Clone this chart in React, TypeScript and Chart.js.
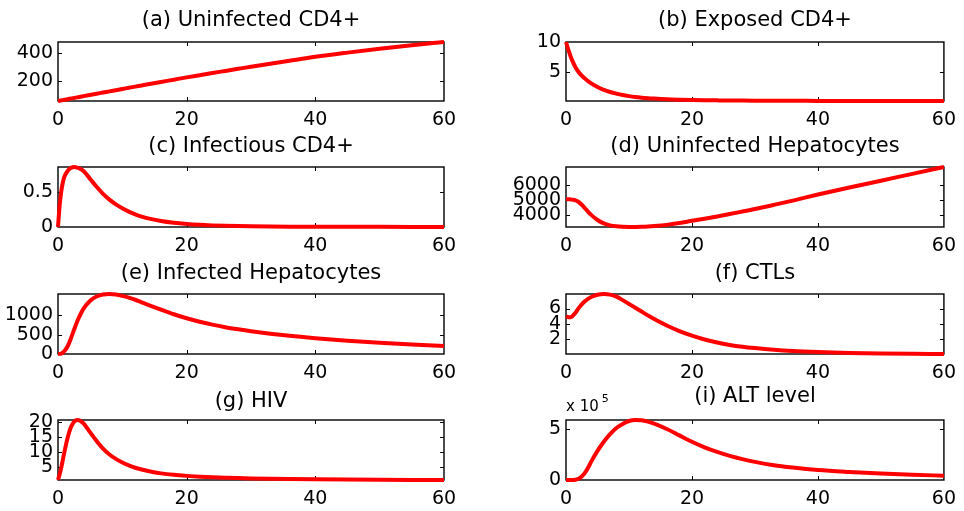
import React, { useEffect, useRef } from 'react';
import { Chart, registerables } from 'chart.js';

Chart.register(...registerables);

// ---------- data ----------
const TIME = [0, 0.25, 0.5, 0.75, 1, 1.5, 2, 2.5, 3, 3.5, 4, 5, 6, 7, 8, 9, 10, 11, 12, 13, 14, 16, 18, 20, 22, 24, 26, 28, 30, 33, 36, 40, 45, 50, 55, 60];
const X_TICKS = [0, 20, 40, 60];

const uninfectedCD4 = [57, 59, 61.5, 63.5, 66, 70, 74.5, 79, 83, 87.5, 92, 100.5, 109, 117.5, 126, 134.5, 143, 151.5, 160, 168, 176.5, 193, 209.5, 226, 241.5, 257, 272, 287, 302, 323.5, 345, 373, 403, 431, 456, 479];
const exposedCD4 = [10, 9.1, 8.3, 7.55, 6.9, 5.8, 5.0, 4.4, 3.9, 3.47, 3.1, 2.5, 2.03, 1.67, 1.39, 1.16, 0.98, 0.84, 0.73, 0.64, 0.57, 0.46, 0.39, 0.34, 0.3, 0.275, 0.255, 0.24, 0.225, 0.21, 0.2, 0.19, 0.182, 0.176, 0.172, 0.17];
const infectiousCD4 = [0, 0.3, 0.5, 0.63, 0.715, 0.795, 0.835, 0.85, 0.842, 0.822, 0.79, 0.68, 0.57, 0.47, 0.388, 0.32, 0.265, 0.218, 0.18, 0.148, 0.122, 0.085, 0.06, 0.043, 0.031, 0.023, 0.017, 0.013, 0.01, 0.007, 0.005, 0.0035, 0.0025, 0.0018, 0.0013, 0.001];
const uninfectedHep = [5050, 5050, 5045, 5040, 5025, 4980, 4870, 4690, 4470, 4240, 4030, 3695, 3470, 3345, 3280, 3250, 3238, 3236, 3245, 3265, 3295, 3375, 3495, 3640, 3780, 3925, 4080, 4245, 4410, 4680, 4960, 5360, 5820, 6260, 6710, 7157];
const infectedHep = [0, 3, 12, 35, 75, 200, 400, 630, 850, 1030, 1180, 1380, 1490, 1540, 1554, 1540, 1505, 1460, 1405, 1340, 1275, 1150, 1030, 925, 835, 760, 695, 640, 590, 525, 470, 410, 345, 290, 245, 205];
const ctls = [5.0, 4.9, 4.85, 4.88, 5.0, 5.45, 6.05, 6.55, 6.95, 7.27, 7.5, 7.8, 7.9, 7.82, 7.55, 7.1, 6.6, 6.1, 5.6, 5.1, 4.62, 3.78, 3.05, 2.45, 1.95, 1.55, 1.24, 1.0, 0.82, 0.6, 0.44, 0.3, 0.18, 0.11, 0.07, 0.05];
const hiv = [0.5, 2.3, 4.6, 7.3, 10, 14.8, 18.3, 20.2, 20.8, 20.5, 19.6, 16.6, 13.7, 11.1, 9.1, 7.6, 6.4, 5.4, 4.6, 4.0, 3.5, 2.7, 2.2, 1.85, 1.58, 1.37, 1.21, 1.09, 1.0, 0.89, 0.8, 0.7, 0.61, 0.54, 0.49, 0.45];
const altLevel = [0, 0, 0, 0, 500, 3000, 12000, 35000, 70000, 120000, 180000, 285000, 375000, 450000, 510000, 550000, 578000, 588000, 585000, 572000, 553000, 500000, 437000, 375000, 320000, 275000, 237000, 205000, 178000, 145000, 122000, 98000, 79000, 64000, 52000, 42000];

const TICKS_A = [200, 400];
const TICKS_B = [5, 10];
const TICKS_C = [0, 0.5];
const TICKS_D = [4000, 5000, 6000];
const TICKS_E = [0, 500, 1000];
const TICKS_F = [2, 4, 6];
const TICKS_G = [5, 10, 15, 20];
const TICKS_I = [0, 500000];

const TITLES = [
  '(a) Uninfected CD4+',
  '(b) Exposed CD4+',
  '(c) Infectious CD4+',
  '(d) Uninfected Hepatocytes',
  '(e) Infected Hepatocytes',
  '(f) CTLs',
  '(g) HIV',
  '(i) ALT level',
];

// ---------- layout ----------
const W = 964;
const H = 511;
const COL_L = [58, 566];
const COL_R = [444, 951];
const ROW_T = [42, 167, 294, 420];
const ROW_B = [101, 227, 354, 480];
const TITLE_BASE = [26, 152, 278.7, 407.3];
const Y_AXIS_W = 58;
const X_AXIS_H = 30;
const FONT = 'DejaVu Sans';

type Panel = {
  title: string;
  values: number[];
  yTicks: number[];
  row: number;
  col: number;
  divisor: number;
  exponent?: string;
  titleBase: number;
};

const PANELS: Panel[] = [
  { title: TITLES[0], values: uninfectedCD4, yTicks: TICKS_A, row: 0, col: 0, divisor: 1, titleBase: TITLE_BASE[0] },
  { title: TITLES[1], values: exposedCD4, yTicks: TICKS_B, row: 0, col: 1, divisor: 1, titleBase: TITLE_BASE[0] },
  { title: TITLES[2], values: infectiousCD4, yTicks: TICKS_C, row: 1, col: 0, divisor: 1, titleBase: TITLE_BASE[1] },
  { title: TITLES[3], values: uninfectedHep, yTicks: TICKS_D, row: 1, col: 1, divisor: 1, titleBase: TITLE_BASE[1] },
  { title: TITLES[4], values: infectedHep, yTicks: TICKS_E, row: 2, col: 0, divisor: 1, titleBase: TITLE_BASE[2] },
  { title: TITLES[5], values: ctls, yTicks: TICKS_F, row: 2, col: 1, divisor: 1, titleBase: TITLE_BASE[2] },
  { title: TITLES[6], values: hiv, yTicks: TICKS_G, row: 3, col: 0, divisor: 1, titleBase: TITLE_BASE[3] },
  { title: TITLES[7], values: altLevel, yTicks: TICKS_I, row: 3, col: 1, divisor: 100000, exponent: '5', titleBase: TITLE_BASE[3] - 5 },
];

function makeDecor(panel: Panel) {
  return {
    id: 'matlabDecor',
    beforeDatasetsDraw(chart: any) {
      const { ctx, chartArea } = chart;
      const { left, right, top, bottom } = chartArea;
      const tl = 4;
      ctx.save();
      ctx.strokeStyle = '#000';
      ctx.lineWidth = 1;
      ctx.beginPath();
      chart.scales.x.ticks.forEach((t: any) => {
        const px = Math.round(chart.scales.x.getPixelForValue(t.value)) + 0.5;
        if (px <= left + 1 || px >= right - 1) return;
        ctx.moveTo(px, bottom);
        ctx.lineTo(px, bottom - tl);
        ctx.moveTo(px, top);
        ctx.lineTo(px, top + tl);
      });
      chart.scales.y.ticks.forEach((t: any) => {
        const py = Math.round(chart.scales.y.getPixelForValue(t.value)) + 0.5;
        if (py <= top + 1 || py >= bottom - 1) return;
        ctx.moveTo(left, py);
        ctx.lineTo(left + tl, py);
        ctx.moveTo(right, py);
        ctx.lineTo(right - tl, py);
      });
      ctx.stroke();
      ctx.lineWidth = 1.4;
      ctx.strokeRect(left, top, right - left, bottom - top);
      ctx.restore();
    },
    afterDraw(chart: any) {
      const { ctx, chartArea } = chart;
      ctx.save();
      ctx.fillStyle = '#000';
      ctx.textAlign = 'center';
      ctx.textBaseline = 'alphabetic';
      ctx.font = `21px "${FONT}"`;
      ctx.fillText(panel.title, (chartArea.left + chartArea.right) / 2, panel.titleBase);
      if (panel.exponent) {
        ctx.textAlign = 'left';
        ctx.font = `15px "${FONT}"`;
        const base = 'x 10';
        ctx.fillText(base, chartArea.left, chartArea.top - 9.5);
        const w = ctx.measureText(base).width;
        ctx.font = `11px "${FONT}"`;
        ctx.fillText(panel.exponent, chartArea.left + w + 3, chartArea.top - 18);
      }
      ctx.restore();
    },
  };
}

function PanelChart({ panel }: { panel: Panel }) {
  const ref = useRef<HTMLCanvasElement | null>(null);
  useEffect(() => {
    if (!ref.current) return;
    const L = COL_L[panel.col];
    const R = COL_R[panel.col];
    const T = ROW_T[panel.row];
    const B = ROW_B[panel.row];
    const yMin = Math.min(...panel.values);
    const yMax = Math.max(...panel.values);
    const tickFont = { family: FONT, size: 19 };
    const chart = new Chart(ref.current, {
      type: 'line',
      data: {
        datasets: [
          {
            data: TIME.map((t, i) => ({ x: t, y: panel.values[i] })),
            borderColor: '#ff0000',
            borderWidth: 4,
            pointRadius: 0,
            cubicInterpolationMode: 'monotone',
            fill: false,
            clip: false as any,
          },
        ],
      },
      options: {
        responsive: false,
        animation: false,
        events: [],
        layout: {
          padding: {
            left: L - Y_AXIS_W,
            right: W - R,
            top: T,
            bottom: H - B - X_AXIS_H,
          },
        },
        plugins: {
          legend: { display: false },
          tooltip: { enabled: false },
          title: { display: false },
        },
        scales: {
          x: {
            type: 'linear',
            min: 0,
            max: 60,
            afterBuildTicks: (s: any) => {
              s.ticks = X_TICKS.map((v) => ({ value: v }));
            },
            afterFit: (s: any) => {
              s.height = X_AXIS_H;
            },
            grid: { display: false, drawTicks: false },
            border: { display: false },
            ticks: {
              padding: 8,
              font: tickFont,
              color: '#000',
              maxRotation: 0,
              autoSkip: false,
              callback: (v: any) => String(v),
            },
          },
          y: {
            type: 'linear',
            min: yMin,
            max: yMax,
            afterBuildTicks: (s: any) => {
              s.ticks = panel.yTicks.map((v) => ({ value: v }));
            },
            afterFit: (s: any) => {
              s.width = Y_AXIS_W;
            },
            grid: { display: false, drawTicks: false },
            border: { display: false },
            ticks: {
              padding: 5,
              font: tickFont,
              color: '#000',
              autoSkip: false,
              callback: (v: any) => String(Number(v) / panel.divisor),
            },
          },
        },
      },
      plugins: [makeDecor(panel)],
    });
    return () => chart.destroy();
  }, [panel]);
  return (
    <canvas
      ref={ref}
      width={W}
      height={H}
      style={{ position: 'absolute', left: 0, top: 0, width: W, height: H }}
    />
  );
}

export default function App() {
  return (
    <div
      style={{
        position: 'fixed',
        left: 0,
        top: 0,
        width: W,
        height: H,
        background: '#fff',
        overflow: 'hidden',
      }}
    >
      {PANELS.map((p) => (
        <PanelChart key={p.title} panel={p} />
      ))}
    </div>
  );
}
